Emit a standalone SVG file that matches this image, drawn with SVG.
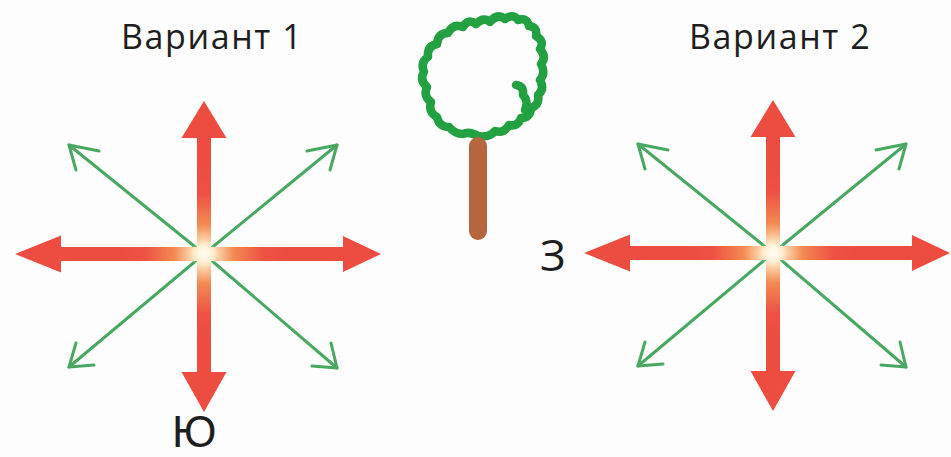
<svg xmlns="http://www.w3.org/2000/svg" xmlns:xlink="http://www.w3.org/1999/xlink" width="951" height="457" viewBox="0 0 951 457">
  <style>
    .label { font-family: "Open Sans", "Noto Sans", "DejaVu Sans", sans-serif; fill: #1e1e1e; }
    .title { font-size: 34px; letter-spacing: 1.6px; }
    .letter { font-size: 44px; }
    .south { font-family: "Liberation Sans", "Open Sans", sans-serif; }
    .diag { stroke: #48a862; stroke-width: 3; fill: none; stroke-linecap: round; }
    .chev { stroke: #48a862; stroke-width: 3; fill: none; stroke-linecap: round; stroke-linejoin: round; }
    .red { fill: url(#glow); }
    .crown { fill: none; stroke: #23a042; stroke-width: 8.5; stroke-linecap: round; stroke-linejoin: round; }
  </style>
  <defs>
    <radialGradient id="glow" gradientUnits="userSpaceOnUse" cx="0" cy="0" r="85">
      <stop offset="0" stop-color="#fff8e6"/>
      <stop offset="0.12" stop-color="#fde3bd"/>
      <stop offset="0.35" stop-color="#f38a52"/>
      <stop offset="0.7" stop-color="#ee5244"/>
      <stop offset="1" stop-color="#ed4c41"/>
    </radialGradient>
    <radialGradient id="core" gradientUnits="userSpaceOnUse" cx="0" cy="0" r="14">
      <stop offset="0" stop-color="#fffbee" stop-opacity="1"/>
      <stop offset="1" stop-color="#fffbee" stop-opacity="0"/>
    </radialGradient>

    <!-- eight-way compass rose, centred on the origin -->
    <g id="rose">
      <!-- green diagonals -->
      <g>
        <line class="diag" x1="0" y1="0" x2="-135" y2="-109"/>
        <line class="diag" x1="0" y1="0" x2="133" y2="-109"/>
        <line class="diag" x1="0" y1="0" x2="-135" y2="113"/>
        <line class="diag" x1="0" y1="0" x2="133" y2="114"/>
        <polyline class="chev" points="-105,-103 -135,-109 -128,-84"/>
        <polyline class="chev" points="103,-103 133,-109 126,-84"/>
        <polyline class="chev" points="-128,89 -135,113 -110,111"/>
        <polyline class="chev" points="127,89 133,114 108,112"/>
      </g>
      <!-- red cardinal arrows -->
      <g class="red">
        <polygon points="-7,0 -7,-116 -22.5,-116 0,-153 22.5,-116 7,-116 7,0"/>
        <polygon points="-7,0 -7,118 -22.5,118 0,158 22.5,118 7,118 7,0"/>
        <polygon points="0,-7 -143,-7 -143,-18.5 -189,0 -143,18.5 -143,7 0,7"/>
        <polygon points="0,-7 139,-7 139,-18 177,0 139,18 139,7 0,7"/>
      </g>
      <circle r="14" fill="url(#core)"/>
    </g>
  </defs>

  <rect width="951" height="457" fill="#fdfdfd"/>

  <g id="variant1">
    <text class="label title" x="121" y="49">Вариант 1</text>
    <use xlink:href="#rose" x="204" y="254"/>
    <text class="label letter south" x="172" y="447">Ю</text>
  </g>

  <g id="tree">
    <!-- lumpy crown outline -->
    <path class="crown" d="M478,136 Q469,131 463,134 Q455,134 449,127 Q439,127 437,117 Q428,112 431,102 Q423,96 427,87 Q419,80 424,72 Q420,62 428,57 Q427,46 437,44 Q438,33 448,33 Q453,23 463,27 Q468,18 476,24 Q484,16 490,22 Q497,13 505,19 Q513,13 518,20 Q527,17 529,26 Q538,27 536,36 Q545,41 540,49 Q547,57 541,64 Q546,73 540,80 Q545,89 538,95 Q540,105 531,108 Q530,118 521,118 Q518,127 509,125 Q504,134 495,131 Q489,138 478,136 Z"/>
    <path class="crown" d="M516,85 Q524,86 523,95 Q529,101 525,110"/>
    <rect x="469" y="137" width="18" height="103" rx="9" fill="#b5663f"/>
  </g>

  <g id="variant2">
    <text class="label title" x="689" y="49">Вариант 2</text>
    <use xlink:href="#rose" x="773" y="253"/>
    <text class="label letter" x="540" y="271">З</text>
  </g>
</svg>
